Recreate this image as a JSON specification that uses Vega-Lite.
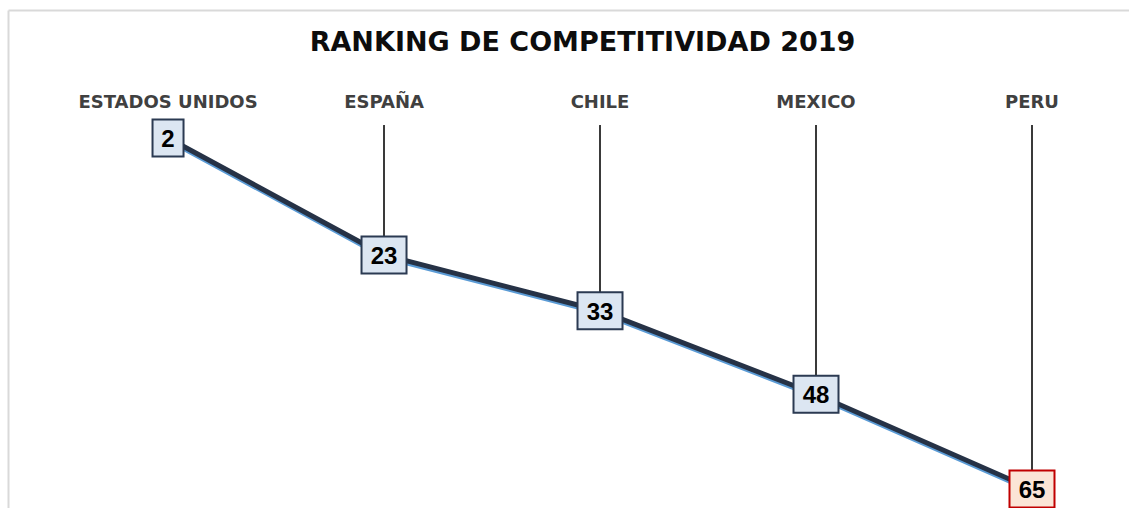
{
  "$schema": "https://vega.github.io/schema/vega-lite/v6.json",
  "width": 1121,
  "height": 498,
  "autosize": {"type": "none"},
  "padding": {"left": 8, "top": 10, "right": 0, "bottom": 0},
  "background": "white",
  "config": {"view": {"stroke": null}, "font": "Liberation Sans"},
  "title": {
    "text": "RANKING DE COMPETITIVIDAD 2019",
    "fontSize": 27,
    "fontWeight": "bold",
    "font": "DejaVu Sans",
    "color": "#0d0d0d",
    "anchor": "middle",
    "frame": "group",
    "offset": -47,
    "dx": 14
  },
  "data": {
    "values": [
      {"pais": "ESTADOS UNIDOS", "rank": 2},
      {"pais": "ESPAÑA", "rank": 23},
      {"pais": "CHILE", "rank": 33},
      {"pais": "MEXICO", "rank": 48},
      {"pais": "PERU", "rank": 65}
    ]
  },
  "encoding": {
    "x": {
      "field": "pais",
      "type": "nominal",
      "scale": {
        "type": "point",
        "domain": ["ESTADOS UNIDOS", "ESPAÑA", "CHILE", "MEXICO", "PERU"],
        "padding": 0.595,
        "align": 0.6226
      },
      "axis": {
        "orient": "top",
        "domain": true,
        "domainColor": "#d9d9d9",
        "domainWidth": 2,
        "labels": false,
        "ticks": false,
        "title": null,
        "grid": false
      }
    },
    "y": {
      "field": "rank",
      "type": "quantitative",
      "scale": {"domain": [-20.976, 68.41], "reverse": true, "nice": false, "zero": false},
      "axis": {
        "domain": true,
        "domainColor": "#d9d9d9",
        "domainWidth": 2,
        "labels": false,
        "ticks": false,
        "title": null,
        "grid": false
      }
    }
  },
  "layer": [
    {
      "mark": {"type": "rule", "color": "#3a3a3a", "strokeWidth": 2},
      "encoding": {
        "y2": {"datum": -0.33}
      }
    },
    {
      "mark": {"type": "line", "color": "#5b9bd5", "strokeWidth": 4, "yOffset": 2.5},
      "encoding": {}
    },
    {
      "mark": {"type": "line", "color": "#263246", "strokeWidth": 5},
      "encoding": {}
    },
    {
      "mark": {"type": "point", "filled": true, "opacity": 1, "size": 2025, "strokeWidth": 2},
      "encoding": {
        "shape": {
          "field": "pais",
          "type": "nominal",
          "scale": {
            "domain": ["ESTADOS UNIDOS", "ESPAÑA", "CHILE", "MEXICO", "PERU"],
            "range": [
              "M-0.689,-0.822L0.689,-0.822L0.689,0.822L-0.689,0.822Z",
              "M-1,-0.822L1,-0.822L1,0.822L-1,0.822Z",
              "M-1,-0.822L1,-0.822L1,0.822L-1,0.822Z",
              "M-1,-0.822L1,-0.822L1,0.822L-1,0.822Z",
              "M-1,-0.822L1,-0.822L1,0.822L-1,0.822Z"
            ]
          },
          "legend": null
        },
        "fill": {
          "condition": {"test": "datum.pais === 'PERU'", "value": "#fbe5d6"},
          "value": "#dce6f2"
        },
        "stroke": {
          "condition": {"test": "datum.pais === 'PERU'", "value": "#c00000"},
          "value": "#2b3a52"
        }
      }
    },
    {
      "mark": {"type": "text", "fontSize": 24, "fontWeight": "bold", "color": "#000000", "baseline": "alphabetic", "dy": 9, "font": "Liberation Sans"},
      "encoding": {
        "text": {"field": "rank", "type": "quantitative"}
      }
    },
    {
      "mark": {"type": "text", "fontSize": 18, "fontWeight": "bold", "color": "#404040", "baseline": "alphabetic", "font": "DejaVu Sans"},
      "encoding": {
        "y": {"datum": -3.44, "type": "quantitative"},
        "text": {"field": "pais", "type": "nominal"}
      }
    }
  ]
}
